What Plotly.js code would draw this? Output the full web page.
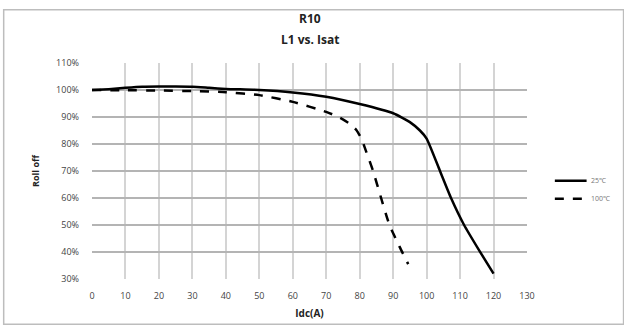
<!DOCTYPE html>
<html>
<head>
<meta charset="utf-8">
<script src="https://cdn.plot.ly/plotly-3.0.1.min.js"></script>
<style>
html,body{margin:0;padding:0;background:#fff;}
#chart{width:624px;height:329px;}
</style>
</head>
<body>
<div id="chart"></div>
<script>
// Series 1 (solid)
const xA = [0, 5, 10, 15, 20, 25, 30, 35, 40, 50, 60, 70, 80, 90, 95, 98, 100, 104, 107.3, 111.2, 115.7, 120];
const yA = [1.000, 1.003, 1.008, 1.012, 1.013, 1.013, 1.012, 1.008, 1.004, 1.000, 0.991, 0.975, 0.948, 0.914, 0.881, 0.850, 0.820, 0.700, 0.600, 0.500, 0.406, 0.320];
// Series 2 (dashed)
const xB = [0, 10, 20, 30, 40, 50, 60, 70, 74, 77, 79, 80.5, 82, 84, 86.4, 88.9, 91.9, 94.5];
const yB = [1.000, 0.999, 0.998, 0.996, 0.992, 0.981, 0.956, 0.919, 0.898, 0.875, 0.852, 0.820, 0.770, 0.700, 0.600, 0.500, 0.420, 0.355];
const seriesNames = ["25℃", "100℃"];
const titleLines = ["R10", "L1 vs. Isat"];
const xTicks = [0,10,20,30,40,50,60,70,80,90,100,110,120,130];
const yTicks = [0.3,0.4,0.5,0.6,0.7,0.8,0.9,1.0,1.1];

const traces = [
  {x: xA, y: yA, name: seriesNames[0], mode: 'lines', line: {color: '#000', width: 2.5, shape: 'spline', smoothing: 0.5}, showlegend: false},
  {x: xB, y: yB, name: seriesNames[1], mode: 'lines', line: {color: '#000', width: 2.5, dash: 'dash', shape: 'spline', smoothing: 0.5}, showlegend: false}
];

// manual legend entries (paper coords) built from series names
const legY = [0.455, 0.372];
const legDash = ['solid', 'dash'];
const legShapes = seriesNames.map((n, i) => ({
  type: 'line', xref: 'paper', yref: 'paper', x0: 1.064, x1: 1.137, y0: legY[i], y1: legY[i],
  line: {color: '#000', width: 2.5, dash: legDash[i]}
}));
const legAnn = seriesNames.map((n, i) => ({
  xref: 'paper', yref: 'paper', x: 1.142, y: legY[i], xanchor: 'left', yanchor: 'middle',
  text: n, showarrow: false, font: {size: 7, color: '#777'}
}));
const titleAnn = titleLines.map((t, i) => ({
  xref: 'paper', yref: 'paper', x: 0.5, y: [1.204, 1.111][i], xanchor: 'center', yanchor: 'middle',
  text: '<b>' + t + '</b>', showarrow: false, font: {size: 12, color: '#222', family: 'Open Sans, sans-serif'}
}));

const layout = {
  width: 624, height: 329,
  margin: {l: 91.5, r: 97, t: 63, b: 50},
  paper_bgcolor: '#fff', plot_bgcolor: '#fff',
  font: {family: 'Open Sans, Liberation Sans, sans-serif', color: '#333'},
  xaxis: {
    range: [0, 130], tickvals: xTicks, ticktext: xTicks.map(String),
    showgrid: true, gridcolor: '#d4d4d4', gridwidth: 2,
    zeroline: false, showline: false, ticks: '', ticklabelstandoff: 10,
    tickfont: {size: 9, color: '#444'},
    title: {text: '<b>Idc(A)</b>', font: {size: 10, color: '#222'}, standoff: 8}
  },
  yaxis: {
    range: [0.3, 1.1], tickvals: yTicks, tickformat: '.0%',
    showgrid: true, gridcolor: '#b4b4b4', gridwidth: 2,
    zeroline: false, showline: false, ticks: '', ticklabelstandoff: 12,
    tickfont: {size: 9, color: '#444'},
    title: {text: '<b>Roll off</b>', font: {size: 9, color: '#222'}, standoff: 14}
  },
  showlegend: false,
  annotations: titleAnn.concat(legAnn),
  shapes: [
    {type: 'rect', xref: 'paper', yref: 'paper', x0: -0.203, x1: 1.222, y0: -0.209, y1: 1.246,
     line: {color: '#bdbdbd', width: 1.5}, fillcolor: 'rgba(0,0,0,0)', layer: 'below'}
  ].concat(legShapes)
};

Plotly.newPlot('chart', traces, layout, {displayModeBar: false, staticPlot: true});
</script>
</body>
</html>
